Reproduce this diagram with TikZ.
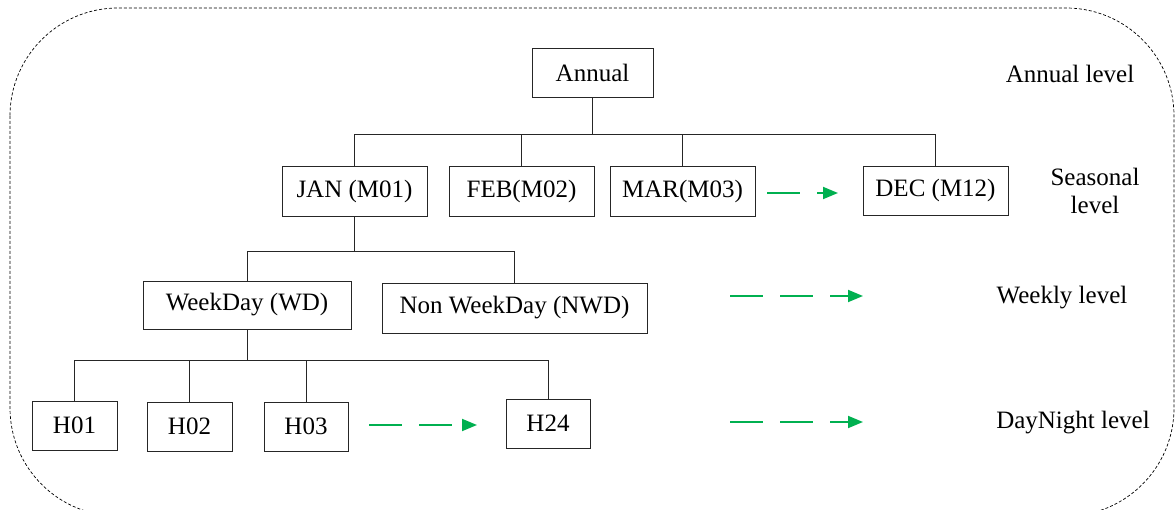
\documentclass[tikz,border=0pt]{standalone}
\usepackage{fontspec}
\setmainfont{Liberation Serif}
\usetikzlibrary{arrows.meta}
\definecolor{arrgreen}{RGB}{0,176,80}
\begin{document}
\begin{tikzpicture}[x=1pt,y=-1pt,
  box/.style={draw=black!85,line width=0.9pt,inner sep=0pt,font=\fontsize{25}{28}\selectfont},
  lvl/.style={inner sep=0pt,align=center,font=\fontsize{25}{28}\selectfont},
  tree/.style={draw=black!85,line width=0.9pt},
  garrow/.style={draw=arrgreen,line width=1.8pt,dash pattern=on 33pt off 17pt,-{Triangle[length=15pt,width=12pt]}}]
\useasboundingbox (0,0) rectangle (1175,510);
\draw[black,line width=0.7pt,dash pattern=on 3pt off 2pt,rounded corners=108pt] (10,8) rectangle (1174,516);

% nodes
\node[box,minimum width=121pt,minimum height=49pt] (annual) at (592.5,72.5) {Annual};
\node[box,minimum width=145pt,minimum height=50pt] (jan) at (354.5,191) {JAN (M01)};
\node[box,minimum width=145pt,minimum height=50pt] (feb) at (521.5,191) {FEB(M02)};
\node[box,minimum width=145pt,minimum height=50pt] (mar) at (682.5,191) {MAR(M03)};
\node[box,minimum width=145pt,minimum height=49pt] (dec) at (935.5,190.5) {DEC (M12)};
\node[box,minimum width=208pt,minimum height=48pt] (wd) at (247,305) {WeekDay (WD)};
\node[box,minimum width=265pt,minimum height=50pt] (nwd) at (514.5,308) {Non WeekDay (NWD)};
\node[box,minimum width=85pt,minimum height=49pt] (h01) at (74.5,425.5) {H01};
\node[box,minimum width=85pt,minimum height=49pt] (h02) at (189.5,426.5) {H02};
\node[box,minimum width=84pt,minimum height=49pt] (h03) at (306,426.5) {H03};
\node[box,minimum width=84pt,minimum height=49pt] (h24) at (548,423.5) {H24};

% level labels
\node[lvl] (lannual) at (1070,74) {Annual level};
\node[lvl] (lseason) at (1095,191) {Seasonal\\level};
\node[lvl] (lweek) at (1062,298) {Weekly level};
\node[lvl] (lday) at (1073,423) {DayNight level};

% bus coordinates
\coordinate (bus1) at (0,134);
\coordinate (bus2) at (0,251);
\coordinate (bus3) at (0,360.5);

% tree connectors
\draw[tree] (annual.south) -- (annual.south |- bus1);
\draw[tree] (jan.north) |- (dec.north |- bus1) -- (dec.north);
\draw[tree] (feb.north) -- (feb.north |- bus1);
\draw[tree] (mar.north) -- (mar.north |- bus1);

\draw[tree] (jan.south) -- (jan.south |- bus2);
\draw[tree] (wd.north) |- (nwd.north |- bus2) -- (nwd.north);

\draw[tree] (wd.south) -- (wd.south |- bus3);
\draw[tree] (h01.north) |- (h24.north |- bus3) -- (h24.north);
\draw[tree] (h02.north) -- (h02.north |- bus3);
\draw[tree] (h03.north) -- (h03.north |- bus3);

% green dashed arrows
\coordinate (a1s) at (767,193);
\coordinate (a1e) at (838,193);
\coordinate (a2s) at (730,296);
\coordinate (a2e) at (863,296);
\coordinate (a3s) at (369,425);
\coordinate (a3e) at (477,425);
\coordinate (a4s) at (730,422);
\coordinate (a4e) at (863,422);
\draw[garrow] (a1s) -- (a1e);
\draw[garrow] (a2s) -- (a2e);
\draw[garrow] (a3s) -- (a3e);
\draw[garrow] (a4s) -- (a4e);
\end{tikzpicture}
\end{document}
